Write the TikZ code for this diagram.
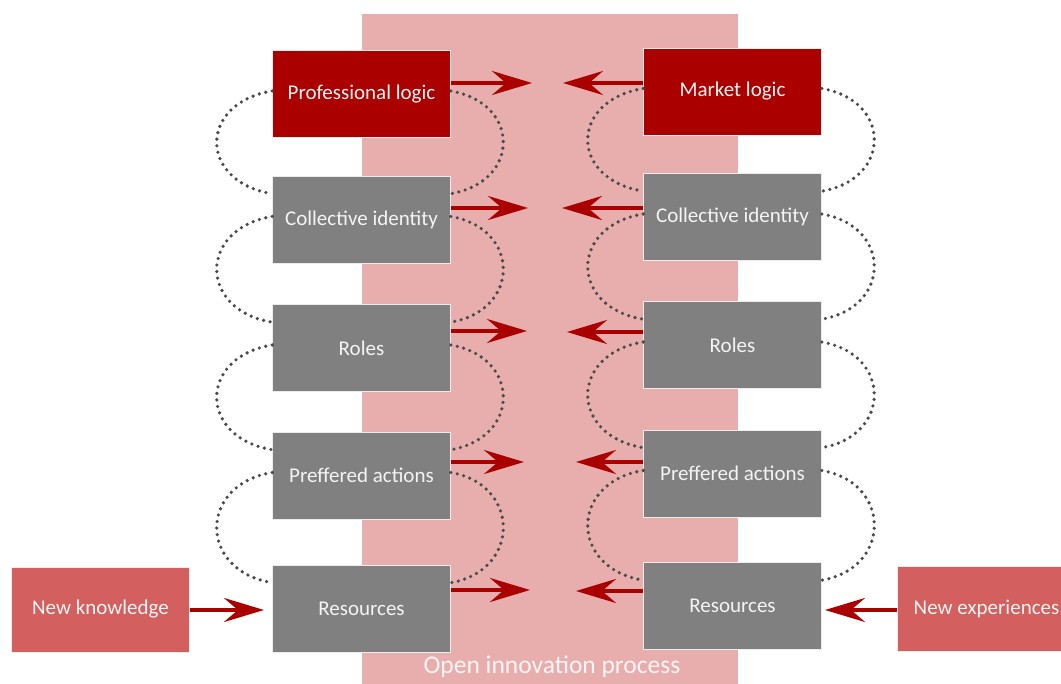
\documentclass[tikz,border=0pt]{standalone}
\usepackage{fontspec}
\setmainfont{Carlito}
\usetikzlibrary{arrows.meta}
\definecolor{darkred}{HTML}{AA0000}
\definecolor{boxgray}{HTML}{808080}
\definecolor{bandpink}{HTML}{E8AEAE}
\definecolor{lightred}{HTML}{D45F5F}
\definecolor{dotgray}{HTML}{4A4A4A}
\definecolor{txt}{HTML}{F4F4F4}
\tikzset{
  box/.style={rectangle, minimum width=178pt, minimum height=87pt, inner sep=0pt,
    text=txt, font=\fontsize{21}{25}\selectfont, draw=white!85!gray, line width=0.6pt},
  logicbox/.style={box, fill=darkred},
  graybox/.style={box, fill=boxgray},
  newbox/.style={box, fill=lightred, minimum height=85pt},
  arr/.style={draw=darkred, line width=4pt, -{Stealth[length=40pt,width=24pt,inset=14pt]}},
  dotline/.style={draw=dotgray, line width=3.6pt, line cap=round, dash pattern=on 0pt off 6.6pt}
}
\begin{document}
\begin{tikzpicture}[x=1pt,y=-1pt]
\useasboundingbox (0,0) rectangle (1061,684);
\fill[bandpink] (362,14) rectangle (738,684);
\node[text=white!88!bandpink, font=\fontsize{25.5}{28}\selectfont] (oip) at (552,667) {Open innovation process};

% left column
\node[logicbox] (pl) at (361.5,94) {Professional logic};
\node[graybox] (lci) at (361.5,219.5) {Collective identity};
\node[graybox] (lr) at (361.5,348) {Roles};
\node[graybox] (lpa) at (361.5,475.5) {Preffered actions};
\node[graybox] (lres) at (361.5,608.5) {Resources};
% right column
\node[logicbox] (ml) at (732.5,91.5) {Market logic};
\node[graybox] (rci) at (732.5,217) {Collective identity};
\node[graybox] (rr) at (732.5,345) {Roles};
\node[graybox] (rpa) at (732.5,473.5) {Preffered actions};
\node[graybox] (rres) at (732.5,606) {Resources};
% new boxes
\node[newbox] (nk) at (100.5,609.5) {New knowledge};
\node[newbox] (ne) at (986.5,608.5) {New experiences};

% dotted links
\foreach \a/\b in {pl/lci, lci/lr, lr/lpa, lpa/lres, ml/rci, rci/rr, rr/rpa, rpa/rres}{
  \draw[dotline] ([yshift=3pt]\a.west) .. controls +(-74,12) and +(-74,-12) .. ([yshift=-18pt]\b.north west);
  \draw[dotline] ([yshift=3pt]\a.east) .. controls +(70,12) and +(70,-12) .. ([yshift=-18pt]\b.north east);
}

% arrow tips
\coordinate (t1) at (532,83);
\coordinate (t2) at (528,208);
\coordinate (t3) at (527,331);
\coordinate (t4) at (524,462);
\coordinate (t5) at (530,590);
\coordinate (u1) at (563,83);
\coordinate (u2) at (562,208);
\coordinate (u3) at (567,332);
\coordinate (u4) at (576,462);
\coordinate (u5) at (576,591);

\draw[arr] (pl.east |- t1) -- (t1);
\draw[arr] (lci.east |- t2) -- (t2);
\draw[arr] (lr.east |- t3) -- (t3);
\draw[arr] (lpa.east |- t4) -- (t4);
\draw[arr] (lres.east |- t5) -- (t5);
\draw[arr] (ml.west |- u1) -- (u1);
\draw[arr] (rci.west |- u2) -- (u2);
\draw[arr] (rr.west |- u3) -- (u3);
\draw[arr] (rpa.west |- u4) -- (u4);
\draw[arr] (rres.west |- u5) -- (u5);

\coordinate (nkt) at (264,610);
\coordinate (net) at (825,610);
\draw[arr] (nk.east |- nkt) -- (nkt);
\draw[arr] (ne.west |- net) -- (net);
\end{tikzpicture}
\end{document}
